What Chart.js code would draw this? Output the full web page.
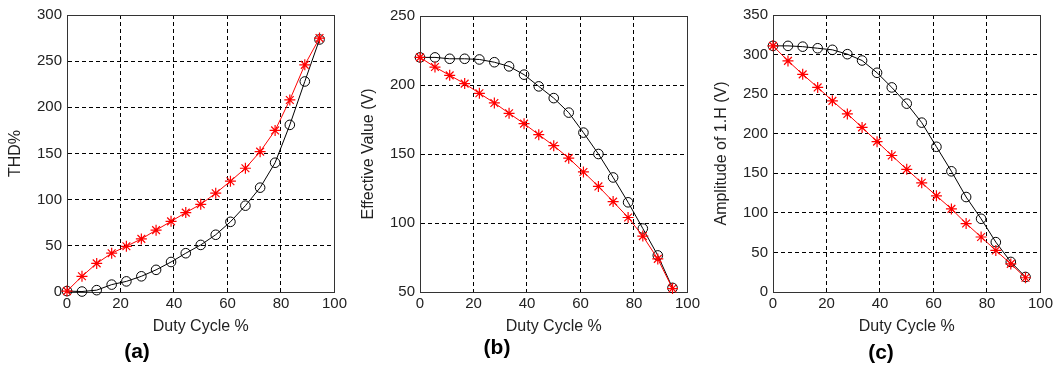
<!DOCTYPE html>
<html>
<head>
<meta charset="utf-8">
<script src="https://cdn.jsdelivr.net/npm/chart.js@4.4.1/dist/chart.umd.min.js"></script>
<style>
    html, body { margin: 0; padding: 0; background: #fff; }
    #wrap { position: relative; width: 1057px; height: 369px; overflow: hidden; }
    #wrap canvas { position: absolute; top: 0; }
    .panel-label {
        position: absolute; width: 60px; text-align: center;
        font: bold 21px "Liberation Sans", Arial, sans-serif; color: #000;
        line-height: 24px;
    }
</style>
</head>
<body>
<div id="wrap">
    <canvas id="chartA" width="350" height="340" style="left:0px"></canvas>
    <canvas id="chartB" width="350" height="340" style="left:353px"></canvas>
    <canvas id="chartC" width="350" height="340" style="left:706px"></canvas>
    <div class="panel-label" style="left:107px; top:339px">(a)</div>
    <div class="panel-label" style="left:467px; top:335px">(b)</div>
    <div class="panel-label" style="left:851px; top:340px">(c)</div>
</div>
<script>
// Duty cycle (%) - x values shared by all three plots
const dutyCycle = [0, 5.6, 11.1, 16.7, 22.2, 27.8, 33.3, 38.9, 44.4, 50, 55.6, 61.1, 66.7, 72.2, 77.8, 83.3, 88.9, 94.4];

// (a) THD%
const thdStar   = [1, 17, 31, 42, 49.5, 57.5, 67, 76.5, 86, 95, 107, 120, 134, 152, 175, 208, 246, 275];
const thdCircle = [1, 0.5, 2, 8, 11.5, 17, 24, 32.5, 42, 51, 62, 76, 93.5, 113, 140, 181, 228, 273.5];

// (b) Effective value (V)
const effStar   = [220, 213, 207, 201, 194, 187, 179.5, 172, 164, 156, 147, 137, 126.5, 115.5, 104, 90.5, 74, 52.5];
const effCircle = [220, 220, 219, 219, 218.5, 216.5, 213.5, 207.5, 199, 190.5, 180, 165.5, 150, 133, 115, 96, 76.5, 53];

// (c) Amplitude of the first harmonic (V)
const ampStar   = [311, 292, 275, 258.5, 241.5, 225, 208, 190, 172.5, 155, 138, 121.5, 105, 86.5, 69.5, 52.5, 35.5, 18];
const ampCircle = [311, 311, 310, 308, 306, 300.5, 292.5, 277, 258.5, 238, 214, 183.5, 152.5, 120, 92.5, 63, 38, 19];

// tick values
const xTicks   = [0, 20, 40, 60, 80, 100];
const thdTicks = [0, 50, 100, 150, 200, 250, 300];
const effTicks = [50, 100, 150, 200, 250];
const ampTicks = [0, 50, 100, 150, 200, 250, 300, 350];

const FONT = '"Liberation Sans", Arial, sans-serif';

// kutu cercevesi (MATLAB box)
const frameBox = {
    id: 'frameBox',
    beforeDatasetsDraw(chart) {
        const a = chart.chartArea;
        const ctx = chart.ctx;
        ctx.save();
        ctx.strokeStyle = '#333';
        ctx.lineWidth = 1;
        ctx.setLineDash([]);
        ctx.strokeRect(Math.round(a.left) + 0.5, Math.round(a.top) + 0.5,
            Math.round(a.right - a.left), Math.round(a.bottom - a.top));
        ctx.restore();
    }
};

function toPoints(xs, ys) {
    return xs.map((x, i) => ({ x: x, y: ys[i] }));
}

function makeChart(id, starData, circleData, yTicks, yTitle, topPad) {
    const ctx = document.getElementById(id).getContext('2d');
    return new Chart(ctx, {
        type: 'line',
        data: {
            datasets: [{
                data: toPoints(dutyCycle, starData),
                borderColor: '#ff0000',
                borderWidth: 1,
                pointStyle: 'star',
                pointRadius: 5.5,
                pointBorderColor: '#ff0000',
                pointBorderWidth: 1.2,
                pointBackgroundColor: '#ff0000',
                tension: 0,
                clip: false,
                order: 0
            }, {
                data: toPoints(dutyCycle, circleData),
                borderColor: '#000',
                borderWidth: 1,
                pointStyle: 'circle',
                pointRadius: 4.8,
                pointBorderColor: '#000',
                pointBorderWidth: 1,
                pointBackgroundColor: 'rgba(0,0,0,0)',
                tension: 0,
                clip: false,
                order: 1
            }]
        },
        options: {
            responsive: false,
            animation: false,
            events: [],
            layout: { padding: { top: topPad, right: 15, left: 0, bottom: 0 } },
            plugins: { legend: { display: false }, tooltip: { enabled: false } },
            scales: {
                x: {
                    type: 'linear',
                    min: xTicks[0],
                    max: xTicks[xTicks.length - 1],
                    afterBuildTicks: s => { s.ticks = xTicks.map(v => ({ value: v })); },
                    afterFit: s => { s.height = 48; },
                    ticks: { color: '#222', font: { family: FONT, size: 15 }, padding: 3, maxRotation: 0 },
                    grid: { color: '#000', lineWidth: 1, drawTicks: false },
                    border: { color: '#333', dash: [4, 3] },
                    title: { display: true, text: 'Duty Cycle %', color: '#222',
                             font: { family: FONT, size: 16 }, padding: { top: 0, bottom: 4 } }
                },
                y: {
                    type: 'linear',
                    min: yTicks[0],
                    max: yTicks[yTicks.length - 1],
                    afterBuildTicks: s => { s.ticks = yTicks.map(v => ({ value: v })); },
                    afterFit: s => { s.width = 67; },
                    ticks: { color: '#222', font: { family: FONT, size: 15 }, padding: 5 },
                    grid: { color: '#000', lineWidth: 1, drawTicks: false },
                    border: { color: '#333', dash: [4, 3] },
                    title: { display: true, text: yTitle, color: '#222',
                             font: { family: FONT, size: 16 }, padding: { top: 6, bottom: 0 } }
                }
            }
        },
        plugins: [frameBox]
    });
}

makeChart('chartA', thdStar, thdCircle, thdTicks, 'THD%', 15);
makeChart('chartB', effStar, effCircle, effTicks, 'Effective Value (V)', 16);
makeChart('chartC', ampStar, ampCircle, ampTicks, 'Amplitude of 1.H (V)', 15);
</script>
</body>
</html>
